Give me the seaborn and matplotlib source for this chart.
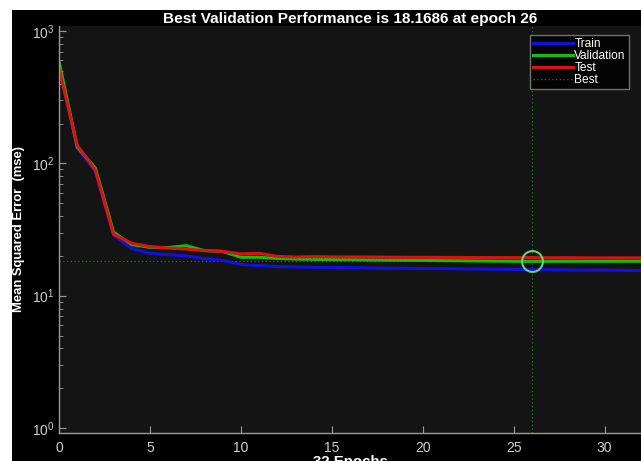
import numpy as np
import pandas as pd
import matplotlib
matplotlib.use("Agg")
import matplotlib.pyplot as plt
import seaborn as sns
from matplotlib.patches import Rectangle
from matplotlib.lines import Line2D

epochs = list(range(0, 33))
train = [550, 130, 87, 28.6, 22.7, 20.9, 20.4, 20.0, 19.0, 18.5, 17.2, 16.9, 16.6, 16.5,
         16.4, 16.35, 16.3, 16.2, 16.15, 16.1, 16.05, 16.0, 15.95, 15.9, 15.85, 15.8, 15.75,
         15.7, 15.65, 15.6, 15.6, 15.55, 15.5]
validation = [590, 133, 92, 30.2, 24.3, 23.2, 23.1, 23.9, 21.9, 21.6, 19.5, 19.5, 19.1, 18.9,
              18.8, 18.75, 18.7, 18.6, 18.55, 18.5, 18.45, 18.4, 18.35, 18.3, 18.25, 18.2, 18.1686,
              18.18, 18.19, 18.2, 18.2, 18.2, 18.2]
test = [520, 137, 88.5, 29.0, 24.9, 23.5, 22.9, 22.5, 21.9, 21.6, 20.7, 20.9, 19.8, 19.6,
        19.7, 19.65, 19.6, 19.6, 19.55, 19.5, 19.5, 19.45, 19.45, 19.4, 19.4, 19.4, 19.4,
        19.35, 19.35, 19.3, 19.3, 19.3, 19.3]
series_names = ["Train", "Validation", "Test"]
best_epoch = 26
best_value = 18.1686
title_text = "Best Validation Performance is 18.1686 at epoch 26"
xlabel_text = "32 Epochs"
ylabel_text = "Mean Squared Error  (mse)"

df = pd.DataFrame({
    "epoch": epochs * 3,
    "mse": train + validation + test,
    "series": ["Train"] * len(epochs) + ["Validation"] * len(epochs) + ["Test"] * len(epochs),
})

palette = {"Train": "#1010e0", "Validation": "#10c010", "Test": "#e01010"}

plt.rcParams['font.family'] = ['Liberation Sans', 'DejaVu Sans']
W, H = 641, 461
fig = plt.figure(figsize=(W / 100, H / 100), dpi=100, facecolor="white")
bg = Rectangle((12 / W, 0), 1 - 12 / W, 1 - 10 / H, transform=fig.transFigure,
               facecolor="black", edgecolor="none", zorder=-10)
fig.add_artist(bg)
ax = fig.add_axes([59 / W, (H - 433) / H, (W - 59) / W, (433 - 26) / H])
ax.set_facecolor("#141414")

sns.lineplot(data=df, x="epoch", y="mse", hue="series", palette=palette, ax=ax,
             linewidth=2.2, legend=False, hue_order=["Train", "Validation", "Test"])
ax.set_yscale("log")
ax.set_xlim(0, 32)
ax.set_ylim(0.917, 1091)

ax.axvline(best_epoch, color="#1f7a1f", linestyle=(0, (1, 2)), linewidth=0.9, zorder=1)
ax.axhline(best_value, color="#1f7a1f", linestyle=(0, (1, 2)), linewidth=0.9, zorder=1)
ax.plot([best_epoch], [best_value], marker="o", markersize=15, markerfacecolor="none",
        markeredgecolor="#6ad46a", markeredgewidth=1.5, zorder=5)

for s in ["top", "right"]:
    ax.spines[s].set_visible(False)
for s in ["left", "bottom"]:
    ax.spines[s].set_color("#9a9a9a")
    ax.spines[s].set_linewidth(1.0)
ax.tick_params(axis="both", which="both", direction="in", colors="#9a9a9a",
               labelcolor="#d0d0d0", labelsize=10)
ax.tick_params(axis="both", which="major", length=5)
ax.tick_params(axis="y", which="minor", length=3)
ax.set_xticks([0, 5, 10, 15, 20, 25, 30])
ax.tick_params(axis="x", pad=6)
ax.grid(False)

ax.set_title(title_text, color="white", fontsize=11.1, fontweight="bold", pad=2)
ax.set_xlabel(xlabel_text, color="white", fontsize=10.8, fontweight="bold", labelpad=0)
ax.set_ylabel(ylabel_text, color="white", fontsize=9.4, fontweight="bold", labelpad=5)

handles = [Line2D([], [], color=palette[n], linewidth=2.2) for n in series_names]
handles.append(Line2D([], [], color="#1f7a1f", linestyle=(0, (1, 2)), linewidth=0.9))
leg = ax.legend(handles, series_names + ["Best"], loc="upper right",
                bbox_to_anchor=(0.979, 0.978), fontsize=8.6, frameon=True, fancybox=False,
                facecolor="black", edgecolor="#8a8a8a", labelcolor="white",
                handlelength=3.35, handletextpad=0.14, labelspacing=0.0, borderpad=0.25,
                borderaxespad=0)
leg.get_frame().set_linewidth(1.0)

fig.savefig("out.png", dpi=100, facecolor=fig.get_facecolor())
